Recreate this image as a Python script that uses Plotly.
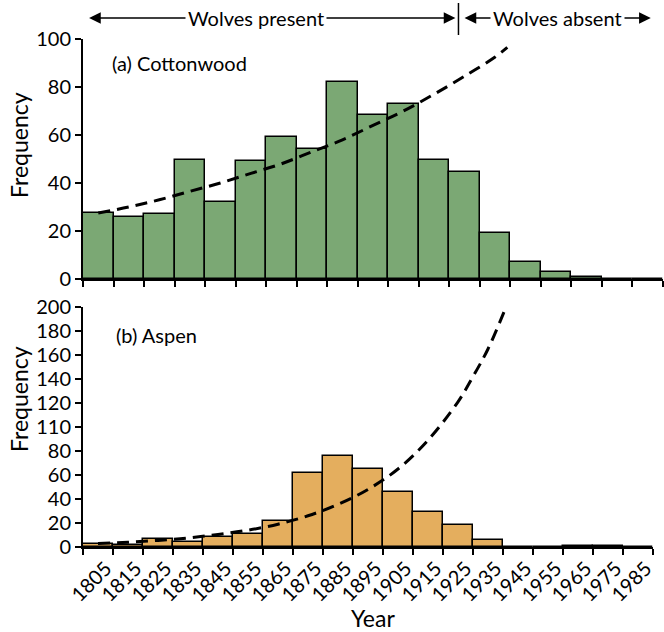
import plotly.graph_objects as go

# ---- data ----
bin_centers = [1805, 1815, 1825, 1835, 1845, 1855, 1865, 1875, 1885, 1895,
               1905, 1915, 1925, 1935, 1945, 1955, 1965, 1975, 1985]
cottonwood = [27.5, 26, 27, 49.5, 32, 49, 59, 54, 82, 68.5,
              73, 49.5, 44.5, 19, 7, 3, 0.8, 0, 0]
aspen = [2.5, 1.5, 7, 4, 8, 11, 22, 62, 76, 65,
         46, 29, 18.5, 5.5, 0, 0, 1, 1, 0]

cotton_curve_x = [1805, 1815, 1825, 1835, 1845, 1855, 1865, 1875, 1885,
                  1895, 1905, 1915, 1925, 1935, 1939]
cotton_curve_y = [27.5, 30, 33, 36.5, 40, 44, 48, 53, 58, 64, 70, 77, 84.5, 92.5, 96.5]

aspen_curve_x = [1805, 1815, 1825, 1835, 1845, 1855, 1865, 1875, 1885,
                 1895, 1905, 1915, 1925, 1930, 1935, 1941]
aspen_curve_y = [3, 4, 5.5, 7.5, 10.5, 14, 19, 26, 35.5, 48, 65, 89, 121, 142, 165, 200]

aspen_tickvals = [0, 20, 40, 60, 80, 100, 120, 140, 160, 180, 200]
aspen_ticktext = ["0", "20", "40", "60", "80", "110", "120", "140", "160", "180", "200"]

wolf_divider_year = 1923
present_span = [1801.5, 1922]
absent_span = [1924.5, 1986]
present_label_x = 1856.7
absent_label_x = 1955.3

GREEN = "#7ba874"
ORANGE = "#e4ae5e"
FONT = "Lato"
LABEL_SHIFT = 2.6  # rotated year labels sit slightly right of bin centres

fig = go.Figure()

fig.add_trace(go.Bar(x=bin_centers, y=cottonwood, width=10, marker=dict(color=GREEN, line=dict(color="black", width=1.5)),
                     xaxis="x", yaxis="y", showlegend=False))
fig.add_trace(go.Scatter(x=cotton_curve_x, y=cotton_curve_y, mode="lines", line=dict(color="black", width=3, dash="12px,7px", shape="spline"),
                         xaxis="x", yaxis="y", showlegend=False))
fig.add_trace(go.Bar(x=bin_centers, y=aspen, width=10, marker=dict(color=ORANGE, line=dict(color="black", width=1.5)),
                     xaxis="x2", yaxis="y2", showlegend=False))
fig.add_trace(go.Scatter(x=aspen_curve_x, y=aspen_curve_y, mode="lines", line=dict(color="black", width=3, dash="12px,7px", shape="spline"),
                         xaxis="x2", yaxis="y2", showlegend=False))

H = 632
axis_common = dict(showgrid=False, zeroline=False, showline=True, linecolor="black", linewidth=2,
                   ticks="outside", ticklen=6, tickwidth=1.5, tickcolor="black",
                   tickfont=dict(family=FONT, size=20, color="black"), automargin=False)

fig.update_layout(
    width=664, height=H,
    margin=dict(l=83, r=1, t=0, b=0),
    paper_bgcolor="white", plot_bgcolor="white",
    bargap=0,
    font=dict(family=FONT, color="black"),
    xaxis=dict(**axis_common, domain=[0, 1], range=[1800, 1990], anchor="y",
               tickmode="linear", tick0=1800, dtick=10, showticklabels=False),
    yaxis=dict(**axis_common, domain=[1 - 279 / H, 1 - 39 / H], range=[0, 100], anchor="x",
               tickmode="linear", tick0=0, dtick=20),
    xaxis2=dict(**{**axis_common, "ticks": "", "tickfont": dict(family=FONT, size=20, color="black")},
                domain=[0, 570 / 580], range=[1800, 1990], anchor="y2",
                tickmode="array", tickvals=[c + LABEL_SHIFT for c in bin_centers],
                ticktext=[str(v) for v in bin_centers],
                tickangle=-45,
                minor=dict(ticks="outside", ticklen=6, tickwidth=1.5, tickcolor="black",
                           tickmode="linear", tick0=1800, dtick=10)),
    yaxis2=dict(**axis_common, domain=[1 - 547 / H, 1 - 307 / H], range=[0, 200], anchor="x2",
                tickmode="array", tickvals=aspen_tickvals, ticktext=aspen_ticktext),
)

ann_font = dict(family=FONT, size=20, color="black")
title_font = dict(family=FONT, size=23, color="black")
annotations = [
    dict(text="(a) Cottonwood", xref="x domain", yref="y domain", x=0.047, y=0.9,
         xanchor="left", yanchor="middle", showarrow=False, font=ann_font),
    dict(text="(b) Aspen", xref="x2 domain", yref="y2 domain", x=0.054, y=0.885,
         xanchor="left", yanchor="middle", showarrow=False, font=ann_font),
    dict(text="Frequency", xref="paper", yref="paper", x=(19 - 83) / 580, y=1 - 145 / H,
         xanchor="center", yanchor="middle",
         textangle=-90, showarrow=False, font=title_font),
    dict(text="Frequency", xref="paper", yref="paper", x=(19 - 83) / 580, y=1 - 399 / H,
         xanchor="center", yanchor="middle",
         textangle=-90, showarrow=False, font=title_font),
    dict(text="Year", xref="paper", yref="paper", x=(373 - 83) / 580, y=1 - 618 / H,
         xanchor="center", yanchor="middle",
         showarrow=False, font=title_font),
]
arrow_y = 1 - 18 / H
for span in (present_span, absent_span):
    annotations.append(dict(text="", x=span[1], y=arrow_y, xref="x", yref="paper",
                            ax=span[0], ay=0, axref="x", ayref="pixel",
                            showarrow=True, arrowside="end+start", arrowhead=2, startarrowhead=2,
                            arrowsize=1.8, startarrowsize=1.8, arrowwidth=1.3, arrowcolor="black"))
for lx, txt in ((present_label_x, "Wolves present"), (absent_label_x, "Wolves absent")):
    annotations.append(dict(text=txt, x=lx, y=arrow_y, xref="x", yref="paper", showarrow=False,
                            xanchor="center", yanchor="middle",
                            bgcolor="white", borderpad=2, font=ann_font))
fig.update_layout(annotations=annotations)

fig.add_shape(type="line", xref="x", yref="paper", x0=wolf_divider_year, x1=wolf_divider_year,
              y0=1 - 35 / H, y1=1 - 3 / H, line=dict(color="black", width=1.5))

fig.write_html("out.html")
